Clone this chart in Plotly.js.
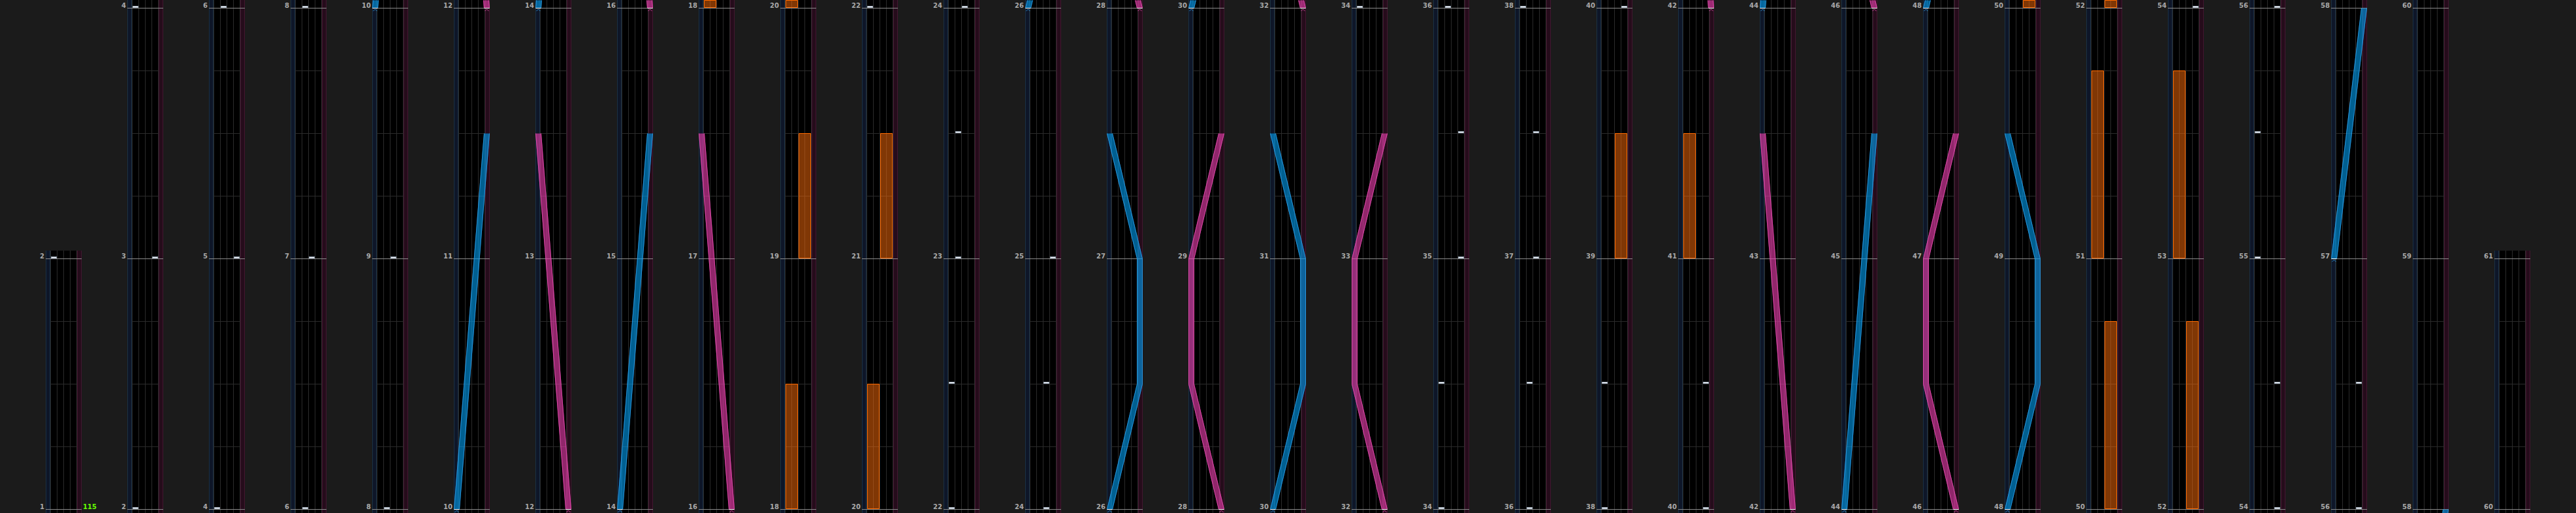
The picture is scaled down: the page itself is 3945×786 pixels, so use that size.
<!DOCTYPE html>
<html><head><meta charset="utf-8">
<script src="https://cdn.plot.ly/plotly-3.0.1.min.js"></script>
<style>html,body{margin:0;padding:0;background:#1b1b1b;overflow:hidden}</style>
</head><body><div id="chart" style="width:3945px;height:786px"></div>
<script>
// ================= DATA =================
// measure numbers written at the measure lines
const measureLabels = [1,2,3,4,5,6,7,8,9,10,11,12,13,14,15,16,17,18,19,20,21,22,23,24,25,26,27,28,29,30,
  31,32,33,34,35,36,37,38,39,40,41,42,43,44,45,46,47,48,49,50,51,52,53,54,55,56,57,58,59,60,61];
const lastMeasure = 60;
const bpmMeasure = 1;
const bpmText = "115";

// BT chips (white): measure, beat fraction within the measure, lane 1..4
const btMeasure = [2,3,4,5,6,7,8,9, 22,22,23,23,24,24,25, 34,34,35,35,36,36,37,37,38,38, 40,40, 54,54,55,55,56,56];
const btBeat    = [0,0,0,0,0,0,0,0, 0,0.5,0,0.5,0,0.5,0, 0,0.5,0,0.5,0,0.5,0,0.5,0,0.5, 0,0.5, 0,0.5,0,0.5,0,0.5];
const btLane    = [1,4,1,4,2,3,2,3, 1,1,2,2,3,3,4, 1,1,4,4,2,2,3,3,1,1, 4,4, 4,4,1,1,4,4];

// FX holds (orange): measure, start beat, end beat, side (L = lanes 1-2, R = lanes 3-4)
const fxMeasure = [18,19,20,21,39,41,50,51,52,53];
const fxStart   = [0,0,0,0,0,0,0,0,0,0];
const fxEnd     = [0.5,0.5,0.5,0.5,0.5,0.5,0.75,0.75,0.75,0.75];
const fxSide    = ['L','R','L','R','R','L','R','L','R','L'];

// Lasers: each is a list of [measure, beat, position 0(left)..1(right)]
const laserBlue = [
  [[10,0,0],[11,0.5,1]],
  [[14,0,0],[15,0.5,1]],
  [[26,0,0],[26,0.5,1],[27,0,1],[27,0.5,0]],
  [[30,0,0],[30,0.5,1],[31,0,1],[31,0.5,0]],
  [[44,0,0],[45,0.5,1]],
  [[48,0,0],[48,0.5,1],[49,0,1],[49,0.5,0]],
  [[57,0,0],[58,0,1]]
];
const laserPink = [
  [[12,0,1],[13,0.5,0]],
  [[16,0,1],[17,0.5,0]],
  [[28,0,1],[28,0.5,0],[29,0,0],[29,0.5,1]],
  [[32,0,1],[32,0.5,0],[33,0,0],[33,0.5,1]],
  [[42,0,1],[43,0.5,0]],
  [[46,0,1],[46,0.5,0],[47,0,0],[47,0.5,1]]
];

// ================= LAYOUT / STYLE =================
const W = 3945, H = 786;
const COL_X0 = 70, COL_PITCH = 125, COL_W = 55;
const MEAS_PX = 384, BOTTOM_ROW = 780, OVER_TOP = 12, OVER_BOTTOM = 6;
const LASER_HALF = 4.5;
const C = {
  bg:'#1b1b1b', blueLane:'#0e1628', blueEdge:'#1a3044', pinkLane:'#250c1b', pinkEdge:'#431630',
  bt:'#000000', divider:'#2b2b2b', beat:'#2b2b2b', measure:'#8c8c8c',
  label:'#a8a8a8', bpm:'#66ff00',
  chipEdge:'#9aa8b8', chip:'#ffffff',
  fxFill:'rgba(255,110,10,0.5)', fxLine:'#ff6a00',
  blueFill:'rgba(0,150,230,0.63)', blueLine:'rgba(50,160,235,0.8)',
  pinkFill:'rgba(230,60,170,0.63)', pinkLine:'rgba(235,80,180,0.8)'
};

const NCOL = Math.floor(lastMeasure/2) + 1;
const colBase  = c => c === 0 ? 1 : 2*c;
const colCount = c => c === 0 ? 1 : (2*c + 1 <= lastMeasure ? 2 : 1);
const colX     = c => COL_X0 + c*COL_PITCH;
const rowOf    = (c,g) => BOTTOM_ROW - (g - colBase(c))*MEAS_PX;
const winOf    = c => [colBase(c) - OVER_BOTTOM/MEAS_PX, colBase(c) + colCount(c) + OVER_TOP/MEAS_PX];

function P(){ return {x:[], y:[]}; }
function rect(p,x1,y1,x2,y2){ p.x.push(x1,x2,x2,x1,x1,null); p.y.push(y1,y1,y2,y2,y1,null); }
function seg(p,x1,y1,x2,y2){ p.x.push(x1,x2,null); p.y.push(y1,y2,null); }
function poly(p,xs,ys){ for(let i=0;i<xs.length;i++){p.x.push(xs[i]);p.y.push(ys[i]);} p.x.push(xs[0],null); p.y.push(ys[0],null); }
function fillT(p,color,lineColor){ return {type:'scatter',mode:'lines',x:p.x,y:p.y,fill:'toself',fillcolor:color,
  line:{width:lineColor?1:0,color:lineColor||color},hoverinfo:'skip',showlegend:false}; }
function lineT(p,color,w){ return {type:'scatter',mode:'lines',x:p.x,y:p.y,line:{color:color,width:w||1},
  hoverinfo:'skip',showlegend:false,connectgaps:false}; }

const blueBg=P(), btBg=P(), pinkBg=P(), blueEdge=P(), pinkEdge=P(), dividers=P(), beats=P(), measures=P();
const annotations = [];
const labelFont = {family:'DejaVu Sans', size:10, color:C.label, weight:'bold'};

for (let c=0;c<NCOL;c++){
  const x0 = colX(c);
  const [gmin,gmax] = winOf(c);
  const yTop = rowOf(c,gmax), yBot = rowOf(c,gmin);
  rect(blueBg, x0, yTop, x0+7, yBot);
  rect(btBg, x0+7, yTop, x0+48, yBot);
  rect(pinkBg, x0+48, yTop, x0+55, yBot);
  seg(blueEdge, x0+0.5, yTop, x0+0.5, yBot); seg(blueEdge, x0+6.5, yTop, x0+6.5, yBot);
  seg(pinkEdge, x0+48.5, yTop, x0+48.5, yBot); seg(pinkEdge, x0+54.5, yTop, x0+54.5, yBot);
  [7,17,27,37,47].forEach(k => seg(dividers, x0+k+0.5, yTop, x0+k+0.5, yBot));
  for (let m=colBase(c); m<colBase(c)+colCount(c); m++){
    [0.25,0.5,0.75].forEach(q => { const y=rowOf(c,m+q)+0.5; seg(beats, x0+8, y, x0+47, y); });
  }
  for (let g=colBase(c); g<=colBase(c)+colCount(c); g++){
    const y = rowOf(c,g)+0.5;
    seg(measures, x0, y, x0+55, y);
    annotations.push({x:x0-1, y:rowOf(c,g), xref:'x', yref:'y', xanchor:'right', yanchor:'bottom',
      text:String(measureLabels[g-1]), showarrow:false, font:labelFont, borderpad:0, yshift:-3});
    if (g === bpmMeasure){
      annotations.push({x:x0+COL_W+1, y:rowOf(c,g), xref:'x', yref:'y', xanchor:'left', yanchor:'bottom',
        text:bpmText, showarrow:false, font:{family:'DejaVu Sans', size:10, color:C.bpm, weight:'bold'}, borderpad:0, yshift:-3});
    }
  }
}

// FX holds
const fx = P();
for (let i=0;i<fxMeasure.length;i++){
  const g1 = fxMeasure[i]+fxStart[i], g2 = fxMeasure[i]+fxEnd[i];
  for (let c=0;c<NCOL;c++){
    const [gmin,gmax] = winOf(c);
    const lo=Math.max(g1,gmin), hi=Math.min(g2,gmax);
    if (lo>=hi) continue;
    const x0=colX(c);
    const xl = fxSide[i]==='L' ? x0+8 : x0+28;
    rect(fx, xl+0.5, rowOf(c,hi)+0.5, xl+19-0.5, rowOf(c,lo)-0.5);
  }
}

// lasers
function laserTraces(list, fillColor, lineColor){
  const body=P(), edges=P(), ticks=P(), chev=P();
  list.forEach(path => {
    const pts = path.map(([m,b,p]) => ({g:m+b, p:p}));
    for (let c=0;c<NCOL;c++){
      const [gmin,gmax] = winOf(c);
      const out=[];
      for (let i=0;i<pts.length-1;i++){
        const a=pts[i], b=pts[i+1];
        const lo=Math.max(a.g,gmin), hi=Math.min(b.g,gmax);
        if (lo>=hi) continue;
        const pa=a.p+(b.p-a.p)*(lo-a.g)/(b.g-a.g), pb=a.p+(b.p-a.p)*(hi-a.g)/(b.g-a.g);
        if (!out.length || out[out.length-1].g!==lo) out.push({g:lo,p:pa});
        out.push({g:hi,p:pb});
      }
      const x0=colX(c);
      const cx = p => x0 + LASER_HALF + p*(COL_W-2*LASER_HALF);
      if (out.length>1){
        const xs=[], ys=[];
        out.forEach(o => { xs.push(cx(o.p)-LASER_HALF); ys.push(rowOf(c,o.g)+0.5); });
        for (let k=out.length-1;k>=0;k--){ xs.push(cx(out[k].p)+LASER_HALF); ys.push(rowOf(c,out[k].g)+0.5); }
        poly(body, xs, ys);
        out.forEach(o => { edges.x.push(cx(o.p)-LASER_HALF+0.5); edges.y.push(rowOf(c,o.g)+0.5); });
        edges.x.push(null); edges.y.push(null);
        out.forEach(o => { edges.x.push(cx(o.p)+LASER_HALF-0.5); edges.y.push(rowOf(c,o.g)+0.5); });
        edges.x.push(null); edges.y.push(null);
      }
      const s = pts[0];
      if (s.g>=gmin && s.g<=gmax){
        const r=rowOf(c,s.g), x=cx(s.p);
        seg(ticks, x-4, r+0.5, x+4, r+0.5);
        chev.x.push(x-3, x, x+3, null); chev.y.push(r+5, r+2, r+5, null);
      }
    }
  });
  return [fillT(body, fillColor), lineT(edges, lineColor, 1), lineT(ticks, '#ffffff', 1), lineT(chev, lineColor, 1)];
}

// BT chips
const chipOuter=P(), chipInner=P();
for (let i=0;i<btMeasure.length;i++){
  const g = btMeasure[i]+btBeat[i];
  for (let c=0;c<NCOL;c++){
    const [gmin,gmax] = winOf(c);
    if (g<gmin || g>gmax) continue;
    const r=rowOf(c,g), xl=colX(c)+8+10*(btLane[i]-1);
    rect(chipOuter, xl, r-3, xl+9, r);
    rect(chipInner, xl+1, r-2, xl+8, r-1);
  }
}

const traces = [
  fillT(blueBg, C.blueLane), fillT(btBg, C.bt), fillT(pinkBg, C.pinkLane),
  lineT(blueEdge, C.blueEdge), lineT(pinkEdge, C.pinkEdge),
  lineT(dividers, C.divider), lineT(beats, C.beat), lineT(measures, C.measure),
  fillT(fx, C.fxFill, C.fxLine),
  ...laserTraces(laserBlue, C.blueFill, C.blueLine),
  ...laserTraces(laserPink, C.pinkFill, C.pinkLine),
  fillT(chipOuter, C.chipEdge), fillT(chipInner, C.chip)
];

const layout = {
  width:W, height:H, margin:{l:0,r:0,t:0,b:0,pad:0},
  paper_bgcolor:C.bg, plot_bgcolor:C.bg, showlegend:false, hovermode:false,
  xaxis:{range:[0,W], visible:false, fixedrange:true},
  yaxis:{range:[H,0], visible:false, fixedrange:true},
  annotations:annotations
};
Plotly.newPlot('chart', traces, layout, {staticPlot:true, displayModeBar:false});
</script></body></html>
